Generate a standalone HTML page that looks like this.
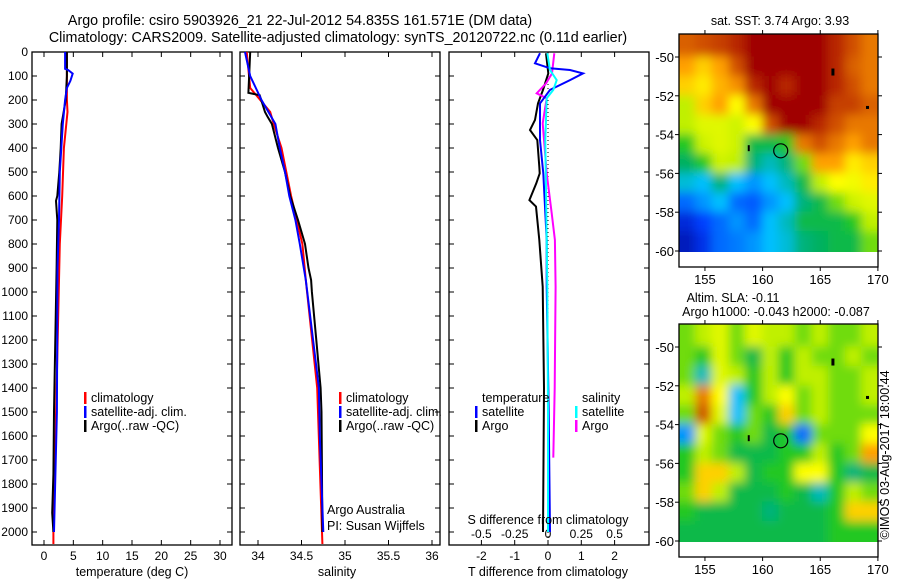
<!DOCTYPE html>
<html><head><meta charset="utf-8"><style>
body{margin:0;background:#fff;}
svg{display:block;font-family:"Liberation Sans",sans-serif;}
</style></head><body>
<svg id="fig" width="900" height="580" xmlns="http://www.w3.org/2000/svg">
<defs>
<filter id="blur" x="-10%" y="-10%" width="120%" height="120%"><feGaussianBlur stdDeviation="5"/></filter>
<clipPath id="clipTop"><rect x="679" y="34" width="199" height="218"/></clipPath>
<clipPath id="clipBot"><rect x="679" y="324" width="199" height="218"/></clipPath>
</defs>
<text x="300" y="25" font-size="14.3" text-anchor="middle">Argo profile: csiro 5903926_21 22-Jul-2012 54.835S 161.571E (DM data)</text>
<text x="338" y="42" font-size="14.3" text-anchor="middle">Climatology: CARS2009. Satellite-adjusted climatology: synTS_20120722.nc (0.11d earlier)</text>
<g id="g"></g>
</svg>
<script>
// ---- profile data (depth in dbar) ----
const tempArgoDepth=[0,70,100,200,300,400,500,600,620,700,900,1500,1760,1920,2000];
const tempArgo=[3.9,3.9,3.9,3.7,3.0,2.85,2.6,2.27,2.05,2.27,2.15,1.7,1.6,1.4,1.6];
const tempSatDepth=[0,70,75,90,120,150,200,300,500,700,900,1500,2000];
const tempSat=[3.6,3.6,4.1,4.9,4.5,3.9,3.6,3.2,2.7,2.55,2.3,2.2,1.7];
const tempClimDepth=[0,200,250,400,600,800,2000,2050];
const tempClim=[3.9,3.9,4.0,3.4,3.1,2.7,1.6,1.6];

const salArgoDepth=[0,170,180,250,270,300,400,500,600,700,800,900,950,1000,1200,1400,1500,2000];
const salArgo=[33.91,33.89,34.02,34.08,34.11,34.16,34.23,34.31,34.37,34.46,34.54,34.58,34.61,34.62,34.67,34.72,34.73,34.74];
const salSatDepth=[0,100,200,300,400,500,600,700,800,950,1400,1600,2000];
const salSat=[33.85,33.91,34.04,34.2,34.25,34.31,34.36,34.43,34.48,34.55,34.70,34.71,34.75];
const salClimDepth=[0,150,180,250,300,400,600,800,950,1400,2050];
const salClim=[33.87,33.91,33.98,34.14,34.18,34.27,34.38,34.51,34.55,34.68,34.74];

const dTArgoDepth=[5,89,158,214,283,325,367,478,506,547,617,644,783,978,1400,2000];
const dTArgo=[-0.06,0.01,-0.15,-0.3,-0.39,-0.54,-0.32,-0.26,-0.25,-0.35,-0.56,-0.36,-0.26,-0.16,-0.12,-0.15];
const dTSatDepth=[5,47,68,75,89,117,158,214,367,506,783,978,1500,2000];
const dTSat=[-0.24,-0.39,0.06,0.66,1.05,0.66,0.06,-0.24,-0.24,-0.14,-0.04,-0.04,0.02,0.06];
const dSArgoDepth=[5,89,131,172,193,297,506,672,783,978,1400,1690];
const dSArgo=[0.047,0.03,-0.015,-0.085,-0.01,-0.04,-0.01,0.028,0.052,0.057,0.05,0.04];
const dSSatDepth=[5,75,117,158,193,367,783,978,1500,2000];
const dSSat=[-0.005,0.015,0.065,0.04,-0.01,-0.02,-0.01,-0.005,0.0,0.0];

const depthTicks=[0,100,200,300,400,500,600,700,800,900,1000,1100,1200,1300,1400,1500,1600,1700,1800,1900,2000];
const tempTicks=[0,5,10,15,20,25,30];
const salTicks=[34,34.5,35,35.5,36];
const salTickLabels=["34","34.5","35","35.5","36"];
const dTTicks=[-2,-1,0,1,2];
const dSTicks=[-0.5,-0.25,0,0.25,0.5];
const dSTickLabels=["-0.5","-0.25","0","0.25","0.5"];

// ---- map data (rows lat -48.8 -> -60, cols lon 152.75 -> 169.9) ----
const latEdges=[-48.8,-50,-51,-52,-53,-54,-55,-56,-57,-58,-59,-60.05];
const lonEdges=[152.75,154.2,155.6,157.1,158.5,160.0,161.4,162.8,164.3,165.7,167.2,168.6,169.9];
const sstRow0=[0.88,0.9,0.92,0.95,1,1,1,1,1,0.95,0.9,0.85];
const sstRow1=[0.8,0.75,0.8,0.9,1,1,1,1,1,0.95,0.88,0.85];
const sstRow2=[0.75,0.72,0.78,0.82,0.95,1,0.95,1,1,0.95,0.9,0.85];
const sstRow3=[0.6,0.75,0.8,0.7,0.85,1,1,1,1,0.92,0.92,0.88];
const sstRow4=[0.6,0.65,0.65,0.62,0.7,0.9,1,1,0.95,0.9,0.85,0.85];
const sstRow5=[0.5,0.62,0.65,0.62,0.45,0.45,0.5,0.85,0.9,0.85,0.8,0.85];
const sstRow6=[0.42,0.5,0.62,0.6,0.4,0.35,0.4,0.55,0.8,0.8,0.72,0.75];
const sstRow7=[0.33,0.3,0.4,0.3,0.25,0.3,0.35,0.45,0.6,0.7,0.68,0.72];
const sstRow8=[0.2,0.25,0.3,0.2,0.18,0.25,0.3,0.4,0.45,0.55,0.62,0.65];
const sstRow9=[0.1,0.15,0.2,0.25,0.2,0.3,0.35,0.45,0.45,0.45,0.5,0.6];
const sstRow10=[0.06,0.12,0.2,0.22,0.25,0.3,0.33,0.4,0.42,0.45,0.45,0.55];
const slaRow0=[0.55,0.6,0.65,0.55,0.65,0.6,0.6,0.55,0.6,0.55,0.55,0.6];
const slaRow1=[0.55,0.5,0.65,0.55,0.45,0.6,0.5,0.6,0.55,0.55,0.6,0.55];
const slaRow2=[0.55,0.35,0.65,0.6,0.5,0.6,0.5,0.6,0.6,0.55,0.55,0.6];
const slaRow3=[0.6,0.85,0.7,0.3,0.5,0.6,0.7,0.55,0.6,0.55,0.55,0.6];
const slaRow4=[0.55,0.9,0.65,0.3,0.55,0.5,0.75,0.55,0.6,0.55,0.55,0.55];
const slaRow5=[0.25,0.65,0.55,0.5,0.55,0.45,0.5,0.2,0.55,0.55,0.55,0.7];
const slaRow6=[0.5,0.6,0.55,0.45,0.45,0.45,0.5,0.5,0.6,0.5,0.55,0.8];
const slaRow7=[0.5,0.75,0.75,0.6,0.45,0.5,0.5,0.7,0.7,0.5,0.4,0.45];
const slaRow8=[0.55,0.75,0.6,0.45,0.45,0.45,0.5,0.45,0.35,0.5,0.6,0.55];
const slaRow9=[0.5,0.45,0.45,0.45,0.45,0.4,0.45,0.45,0.45,0.5,0.75,0.75];
const slaRow10=[0.45,0.45,0.45,0.45,0.45,0.45,0.45,0.45,0.45,0.5,0.5,0.5];
const mapLatTicks=[-50,-52,-54,-56,-58,-60];
const mapLonTicks=[155,160,165,170];
const argoLon=161.571, argoLat=-54.835;

const NS="http://www.w3.org/2000/svg";
const G=document.getElementById('g');
function el(tag,attrs,parent){const e=document.createElementNS(NS,tag);for(const k in attrs)e.setAttribute(k,attrs[k]);(parent||G).appendChild(e);return e;}
function txt(x,y,s,size,anchor,parent){const t=el('text',{x:x,y:y,'font-size':size||12,'text-anchor':anchor||'middle'},parent);t.textContent=s;return t;}

const Y=d=>52+d*0.24;
const panels=[
 {x0:32,x1:232,fx:v=>44+v*5.867,name:'temperature-panel'},
 {x0:240,x1:440,fx:v=>258+(v-34)*87,name:'salinity-panel'},
 {x0:449,x1:649,fx:v=>548+v*33.3,name:'difference-panel'}
];
const fS=v=>548+v*133.2;

panels.forEach((p,i)=>{
  const g=el('g',{});
  
  
  p.g=g;
  const fr=el('rect',{x:p.x0,y:52,width:p.x1-p.x0,height:493,fill:'none',stroke:'#000','stroke-width':1.3},g);
  
  
  depthTicks.forEach(d=>{
    el('line',{x1:p.x0,y1:Y(d),x2:p.x0+5,y2:Y(d),stroke:'#000'},g);
    el('line',{x1:p.x1,y1:Y(d),x2:p.x1-5,y2:Y(d),stroke:'#000'},g);
  });
});
depthTicks.forEach(d=>{const t=txt(28,Y(d)+4,String(d),12,'end');
  
  });
function xticks(p,vals,labels,f){vals.forEach((v,i)=>{const x=f(v);
  el('line',{x1:x,y1:545,x2:x,y2:540,stroke:'#000'},p.g);
  el('line',{x1:x,y1:52,x2:x,y2:57,stroke:'#000'},p.g);
  const t=txt(x,560,labels[i],12,'middle',p.g);
  
  });}
xticks(panels[0],tempTicks,tempTicks.map(String),panels[0].fx);
xticks(panels[1],salTicks,salTickLabels,panels[1].fx);
xticks(panels[2],dTTicks,dTTicks.map(String),panels[2].fx);
dSTicks.forEach((v,i)=>{const t=txt(fS(v),538,dSTickLabels[i],12,'middle',panels[2].g);
  
  });
[[132,'temperature (deg C)','x-axis-title-temperature'],[337,'salinity','x-axis-title-salinity'],[548,'T difference from climatology','x-axis-title-t-diff']].forEach(a=>{
  const t=txt(a[0],576,a[1],12.5);  });
{const t=txt(548,524,'S difference from climatology',12.5);
 
 }
{const l=el('line',{x1:548,y1:Y(0),x2:548,y2:545,stroke:'#000','stroke-dasharray':'1,3'},panels[2].g);
 
 }

function profile(p,depths,vals,f,color,name){
  const pts=depths.map((d,i)=>f(vals[i]).toFixed(1)+','+Y(d).toFixed(1)).join(' ');
  const l=el('polyline',{points:pts,fill:'none',stroke:color,'stroke-width':2},p.g);
  
  
}
profile(panels[0],tempClimDepth,tempClim,panels[0].fx,'#f00','temp-climatology-line');
profile(panels[0],tempArgoDepth,tempArgo,panels[0].fx,'#000','temp-argo-line');
profile(panels[0],tempSatDepth,tempSat,panels[0].fx,'#00f','temp-satellite-line');
profile(panels[1],salClimDepth,salClim,panels[1].fx,'#f00','sal-climatology-line');
profile(panels[1],salArgoDepth,salArgo,panels[1].fx,'#000','sal-argo-line');
profile(panels[1],salSatDepth,salSat,panels[1].fx,'#00f','sal-satellite-line');
profile(panels[2],dTArgoDepth,dTArgo,panels[2].fx,'#000','t-diff-argo-line');
profile(panels[2],dSArgoDepth,dSArgo,fS,'#f0f','s-diff-argo-line');
profile(panels[2],dTSatDepth,dTSat,panels[2].fx,'#00f','t-diff-satellite-line');
profile(panels[2],dSSatDepth,dSSat,fS,'#0ff','s-diff-satellite-line');

function legend(x,y,color,label,parent){
  const g=el('g',{},parent);
  
  
  if(color) el('rect',{x:x-7,y:y-10,width:2.5,height:12,fill:color},g);
  txt(x,y,label,12.5,'start',g);
}
legend(91,402,'#f00','climatology',panels[0].g);
legend(91,416,'#00f','satellite-adj. clim.',panels[0].g);
legend(91,430,'#000','Argo(..raw -QC)',panels[0].g);
legend(346,402,'#f00','climatology',panels[1].g);
legend(346,416,'#00f','satellite-adj. clim.',panels[1].g);
legend(346,430,'#000','Argo(..raw -QC)',panels[1].g);
legend(482,402,null,'temperature',panels[2].g);
legend(482,416,'#00f','satellite',panels[2].g);
legend(482,430,'#000','Argo',panels[2].g);
legend(582,402,null,'salinity',panels[2].g);
legend(582,416,'#0ff','satellite',panels[2].g);
legend(582,430,'#f0f','Argo',panels[2].g);
{const t=txt(327,514,'Argo Australia',12.5,'start',panels[1].g);
 
 
 const t2=txt(327,530,'PI: Susan Wijffels',12.5,'start',panels[1].g);
 
 }

// ---- maps ----
const stops=[[0,[0,0,144]],[0.15,[0,64,255]],[0.3,[0,192,255]],[0.42,[0,176,96]],[0.5,[32,200,32]],[0.6,[192,240,0]],[0.7,[255,255,0]],[0.8,[255,160,0]],[0.9,[208,80,0]],[1,[160,0,0]]];
function cmap(v){v=Math.max(0,Math.min(1,v));for(let i=1;i<stops.length;i++){if(v<=stops[i][0]){const a=stops[i-1],b=stops[i],t=(v-a[0])/(b[0]-a[0]);const c=a[1].map((q,k)=>Math.round(q+(b[1][k]-q)*t));return 'rgb('+c.join(',')+')';}}return 'rgb(160,0,0)';}
const sstRows=[sstRow0,sstRow1,sstRow2,sstRow3,sstRow4,sstRow5,sstRow6,sstRow7,sstRow8,sstRow9,sstRow10];
const slaRows=[slaRow0,slaRow1,slaRow2,slaRow3,slaRow4,slaRow5,slaRow6,slaRow7,slaRow8,slaRow9,slaRow10];
const MX=lon=>679+(lon-152.75)*11.53;
function drawMap(top,rows,name,clip){
  const MY=lat=>top+23+(-50-lat)*19.4;
  const g=el('g',{});
  
  
  const cg=el('g',{'clip-path':'url(#'+clip+')'},g);
  const hg=el('g',{filter:'url(#blur)'},cg);
  const nr=rows.length, nc=rows[0].length;
  rows.forEach((row,r)=>row.forEach((v,c)=>{
    let x=MX(lonEdges[c]),x2=MX(lonEdges[c+1]),y=MY(latEdges[r]),y2=MY(latEdges[r+1]);
    if(c===0)x-=15; if(c===nc-1)x2+=15; if(r===0)y-=15; if(r===nr-1)y2+=15;
    const cell=el('rect',{x:x-0.5,y:y-0.5,width:x2-x+1,height:y2-y+1,fill:cmap(v)},hg);
    
    
  }));
  const c=el('circle',{cx:MX(argoLon),cy:MY(argoLat),r:7,fill:'none',stroke:'#000','stroke-width':1.2},g);
  
  
  el('rect',{x:MX(166.1)-1.5,y:MY(-50.8)-4,width:3,height:7,fill:'#000'},g);
  el('rect',{x:MX(169.1)-1.5,y:MY(-52.6)-1.5,width:3,height:3,fill:'#000'},g);
  el('rect',{x:MX(158.8)-1,y:MY(-54.7)-3,width:2,height:6,fill:'#000'},g);
  el('rect',{x:679,y:top,width:199,height:233,fill:'none',stroke:'#000','stroke-width':1.3},g);
  mapLatTicks.forEach(l=>{const y=MY(l);
    el('line',{x1:679,y1:y,x2:675,y2:y,stroke:'#000'},g);
    el('line',{x1:878,y1:y,x2:882,y2:y,stroke:'#000'},g);
    const t=txt(674,y+5,String(l),13,'end',g);
    
    });
  mapLonTicks.forEach(l=>{const x=MX(l);
    el('line',{x1:x,y1:top,x2:x,y2:top-4,stroke:'#000'},g);
    el('line',{x1:x,y1:top+233,x2:x,y2:top+237,stroke:'#000'},g);
    const t=txt(x,top+250,String(l),13,'middle',g);
    
    });
}
drawMap(34,sstRows,'sst-map','clipTop');
drawMap(324,slaRows,'sla-map','clipBot');
{const t=txt(780,25,'sat. SST: 3.74  Argo: 3.93',12.5);
 
 
 const t2=txt(733,302,'Altim. SLA: -0.11',12.5);
 
 
 const t3=txt(776,316,'Argo h1000: -0.043 h2000: -0.087',12.5);
 
 
 const t4=txt(0,0,'©IMOS 03-Aug-2017 18:00:44',12.5,'middle');
 t4.setAttribute('transform','translate(889,455) rotate(-90)');
 
 }
</script>
</body></html>
